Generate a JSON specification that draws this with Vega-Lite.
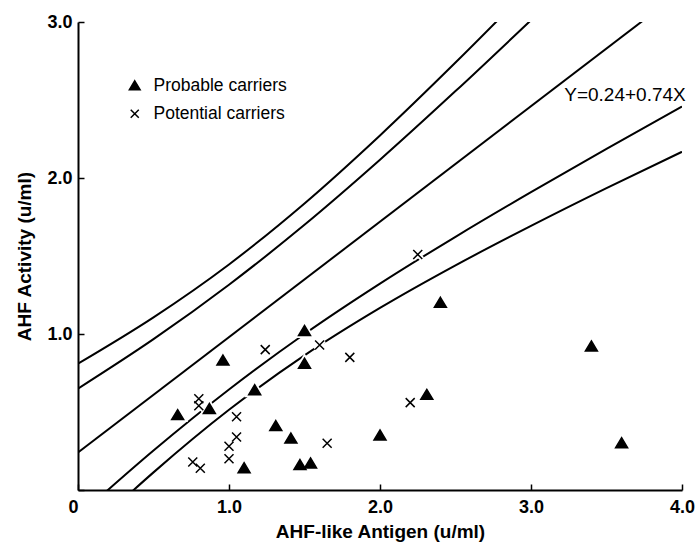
{
  "$schema": "https://vega.github.io/schema/vega-lite/v6.json",
  "width": 604,
  "height": 468,
  "autosize": "none",
  "padding": {"left": 78, "top": 22, "right": 16, "bottom": 58},
  "background": "white",
  "config": {
    "view": {"stroke": null},
    "font": "Liberation Sans",
    "axis": {
      "domainColor": "black", "domainWidth": 2,
      "tickColor": "black", "tickWidth": 1.5, "tickSize": -6,
      "grid": false,
      "labelFont": "Liberation Sans", "labelFontWeight": "bold", "labelFontSize": 18, "labelColor": "black",
      "titleFont": "Liberation Sans", "titleFontWeight": "bold", "titleFontSize": 19, "titleColor": "black"
    }
  },
  "datasets": {
    "points": [
      {"x": 1.50, "y": 1.02, "group": "Probable carriers"},
      {"x": 0.96, "y": 0.83, "group": "Probable carriers"},
      {"x": 1.50, "y": 0.81, "group": "Probable carriers"},
      {"x": 1.17, "y": 0.64, "group": "Probable carriers"},
      {"x": 0.87, "y": 0.52, "group": "Probable carriers"},
      {"x": 0.66, "y": 0.48, "group": "Probable carriers"},
      {"x": 1.31, "y": 0.41, "group": "Probable carriers"},
      {"x": 1.41, "y": 0.33, "group": "Probable carriers"},
      {"x": 2.00, "y": 0.35, "group": "Probable carriers"},
      {"x": 1.10, "y": 0.14, "group": "Probable carriers"},
      {"x": 1.47, "y": 0.16, "group": "Probable carriers"},
      {"x": 1.54, "y": 0.17, "group": "Probable carriers"},
      {"x": 2.40, "y": 1.20, "group": "Probable carriers"},
      {"x": 3.40, "y": 0.92, "group": "Probable carriers"},
      {"x": 2.31, "y": 0.61, "group": "Probable carriers"},
      {"x": 3.60, "y": 0.30, "group": "Probable carriers"},
      {"x": 1.60, "y": 0.93, "group": "Potential carriers"},
      {"x": 1.24, "y": 0.90, "group": "Potential carriers"},
      {"x": 1.80, "y": 0.85, "group": "Potential carriers"},
      {"x": 0.80, "y": 0.585, "group": "Potential carriers"},
      {"x": 0.80, "y": 0.54, "group": "Potential carriers"},
      {"x": 1.05, "y": 0.47, "group": "Potential carriers"},
      {"x": 1.05, "y": 0.34, "group": "Potential carriers"},
      {"x": 1.65, "y": 0.30, "group": "Potential carriers"},
      {"x": 1.00, "y": 0.28, "group": "Potential carriers"},
      {"x": 1.00, "y": 0.20, "group": "Potential carriers"},
      {"x": 0.76, "y": 0.18, "group": "Potential carriers"},
      {"x": 0.81, "y": 0.14, "group": "Potential carriers"},
      {"x": 2.25, "y": 1.51, "group": "Potential carriers"},
      {"x": 2.20, "y": 0.56, "group": "Potential carriers"}
    ],
    "curves": [
      {"curve": "reg", "x": 0.0, "y": 0.24},
      {"curve": "reg", "x": 4.0, "y": 3.20},
      {"curve": "upper_inner", "x": 0.0, "y": 0.650},
      {"curve": "upper_inner", "x": 0.5, "y": 0.967},
      {"curve": "upper_inner", "x": 1.0, "y": 1.316},
      {"curve": "upper_inner", "x": 1.5, "y": 1.700},
      {"curve": "upper_inner", "x": 2.0, "y": 2.117},
      {"curve": "upper_inner", "x": 2.5, "y": 2.557},
      {"curve": "upper_inner", "x": 3.0, "y": 3.012},
      {"curve": "upper_inner", "x": 3.5, "y": 3.474},
      {"curve": "upper_outer", "x": 0.0, "y": 0.810},
      {"curve": "upper_outer", "x": 0.5, "y": 1.107},
      {"curve": "upper_outer", "x": 1.0, "y": 1.446},
      {"curve": "upper_outer", "x": 1.5, "y": 1.837},
      {"curve": "upper_outer", "x": 2.0, "y": 2.273},
      {"curve": "upper_outer", "x": 2.5, "y": 2.740},
      {"curve": "upper_outer", "x": 3.0, "y": 3.227},
      {"curve": "lower_inner", "x": 0.0, "y": -0.170},
      {"curve": "lower_inner", "x": 0.5, "y": 0.253},
      {"curve": "lower_inner", "x": 1.0, "y": 0.644},
      {"curve": "lower_inner", "x": 1.5, "y": 1.000},
      {"curve": "lower_inner", "x": 2.0, "y": 1.323},
      {"curve": "lower_inner", "x": 2.5, "y": 1.623},
      {"curve": "lower_inner", "x": 3.0, "y": 1.909},
      {"curve": "lower_inner", "x": 3.5, "y": 2.186},
      {"curve": "lower_inner", "x": 4.0, "y": 2.458},
      {"curve": "lower_outer", "x": 0.0, "y": -0.330},
      {"curve": "lower_outer", "x": 0.5, "y": 0.113},
      {"curve": "lower_outer", "x": 1.0, "y": 0.514},
      {"curve": "lower_outer", "x": 1.5, "y": 0.863},
      {"curve": "lower_outer", "x": 2.0, "y": 1.167},
      {"curve": "lower_outer", "x": 2.5, "y": 1.440},
      {"curve": "lower_outer", "x": 3.0, "y": 1.693},
      {"curve": "lower_outer", "x": 3.5, "y": 1.935},
      {"curve": "lower_outer", "x": 4.0, "y": 2.168}
    ]
  },
  "layer": [
    {
      "data": {"name": "curves"},
      "mark": {"type": "line", "clip": true, "color": "black", "strokeWidth": 2, "interpolate": "monotone"},
      "encoding": {
        "x": {
          "field": "x", "type": "quantitative",
          "scale": {"domain": [0, 4], "nice": false, "zero": false},
          "axis": {
            "values": [0, 1, 2, 3, 4],
            "labelExpr": "datum.value == 0 ? '0' : format(datum.value, '.1f')",
            "labelAlign": {"expr": "datum.value == 0 ? 'right' : 'center'"},
            "labelPadding": 14,
            "title": "AHF-like Antigen (u/ml)",
            "titlePadding": 6
          }
        },
        "y": {
          "field": "y", "type": "quantitative",
          "scale": {"domain": [0, 3], "nice": false, "zero": false},
          "axis": {
            "values": [0, 1, 2, 3],
            "labelExpr": "datum.value == 0 ? '' : format(datum.value, '.1f')",
            "labelPadding": 12,
            "title": "AHF Activity (u/ml)",
            "titlePadding": 12
          }
        },
        "detail": {"field": "curve"}
      }
    },
    {
      "data": {"name": "points"},
      "mark": {"type": "point", "filled": false, "stroke": "white", "strokeWidth": 5, "fill": "white", "size": 100, "opacity": 1},
      "encoding": {
        "x": {"field": "x", "type": "quantitative"},
        "y": {"field": "y", "type": "quantitative"},
        "shape": {
          "field": "group", "type": "nominal",
          "scale": {"domain": ["Probable carriers", "Potential carriers"], "range": ["M0,-1.1L1.2,0.9L-1.2,0.9Z", "M-0.9,-0.9L0.9,0.9M0.9,-0.9L-0.9,0.9"]},
          "legend": null
        }
      }
    },
    {
      "data": {"name": "points"},
      "mark": {"type": "point", "filled": true, "fill": "black", "stroke": "black", "strokeWidth": 1.5, "size": 100, "opacity": 1},
      "encoding": {
        "x": {"field": "x", "type": "quantitative"},
        "y": {"field": "y", "type": "quantitative"},
        "shape": {
          "field": "group", "type": "nominal",
          "scale": {"domain": ["Probable carriers", "Potential carriers"], "range": ["M0,-1.1L1.2,0.9L-1.2,0.9Z", "M-0.9,-0.9L0.9,0.9M0.9,-0.9L-0.9,0.9"]},
          "legend": {
            "orient": "none", "legendX": 48, "legendY": 55,
            "title": null,
            "labelFont": "Liberation Sans", "labelFontSize": 17.5, "labelColor": "black",
            "symbolSize": 80,
            "labelOffset": 10, "rowPadding": 9,
            "encode": {
              "symbols": {"update": {"fill": {"value": "black"}, "stroke": {"value": "black"}, "strokeWidth": {"value": 1.5}, "opacity": {"value": 1}}}
            }
          }
        }
      }
    },
    {
      "data": {"values": [{"label": "Y=0.24+0.74X"}]},
      "mark": {"type": "text", "align": "left", "baseline": "middle", "font": "Liberation Sans", "fontSize": 19, "color": "black"},
      "encoding": {
        "x": {"datum": 3.22},
        "y": {"datum": 2.53},
        "text": {"field": "label", "type": "nominal"}
      }
    }
  ],
  "resolve": {"scale": {"shape": "independent"}, "legend": {"shape": "independent"}}
}
